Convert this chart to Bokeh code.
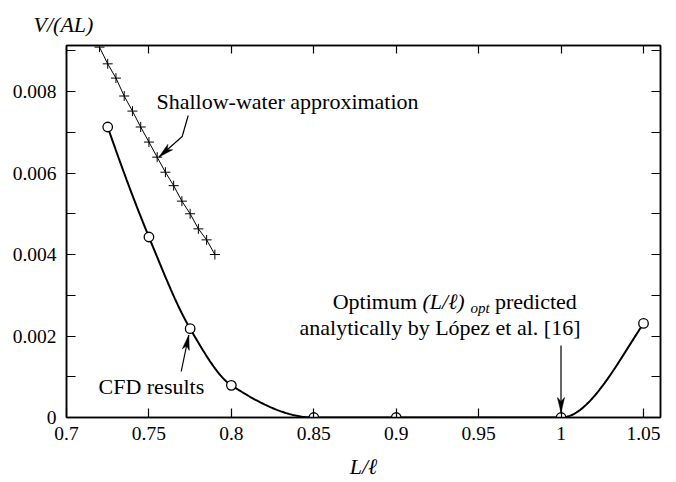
import numpy as np
from bokeh.plotting import figure
from bokeh.models import Range1d, FixedTicker, LinearAxis, Label
from bokeh.embed import file_html
from bokeh.resources import INLINE

# ---------------- data ----------------
cfd_x = [0.725, 0.75, 0.775, 0.8, 0.85, 0.9, 1.0, 1.05]
cfd_y = [0.00713, 0.00443, 0.00218, 0.00079, 0.0, 0.0, 0.0, 0.00231]

sw_x = [0.72, 0.725, 0.73, 0.735, 0.74, 0.745, 0.75, 0.755,
        0.76, 0.765, 0.77, 0.775, 0.78, 0.785, 0.79]
sw_y = [0.00909, 0.00868, 0.00833, 0.00789, 0.00752, 0.00713, 0.00676, 0.00639,
        0.00602, 0.00569, 0.00531, 0.00500, 0.00463, 0.00436, 0.00400]

x_ticks = [0.7, 0.75, 0.8, 0.85, 0.9, 0.95, 1.0, 1.05]
x_tick_labels = ["0.7", "0.75", "0.8", "0.85", "0.9", "0.95", "1", "1.05"]
y_ticks = [0.0, 0.002, 0.004, 0.006, 0.008]
y_tick_labels = ["0", "0.002", "0.004", "0.006", "0.008"]
y_minor_ticks = [0.001, 0.003, 0.005, 0.007, 0.009]

# ---------------- layout ----------------
W, H = 676, 482
FL, FR, FT, FB = 66, 660, 45, 417
X0, X1 = 0.7, 1.0603
Y0, Y1 = 0.0, 0.00913
FONT = "Liberation Serif"


def X(px):
    return X0 + (px - FL) / (FR - FL) * (X1 - X0)


def Y(py):
    return Y0 + (FB - py) / (FB - FT) * (Y1 - Y0)


def pchip(x, y, xs):
    x = np.asarray(x, float)
    y = np.asarray(y, float)
    h = np.diff(x)
    dl = np.diff(y) / h
    n = len(x)
    d = np.zeros(n)
    for k in range(1, n - 1):
        if dl[k - 1] * dl[k] > 0:
            w1 = 2 * h[k] + h[k - 1]
            w2 = h[k] + 2 * h[k - 1]
            d[k] = (w1 + w2) / (w1 / dl[k - 1] + w2 / dl[k])

    def end(h0, h1, d0, d1):
        v = ((2 * h0 + h1) * d0 - h0 * d1) / (h0 + h1)
        if np.sign(v) != np.sign(d0):
            v = 0.0
        elif np.sign(d0) != np.sign(d1) and abs(v) > abs(3 * d0):
            v = 3 * d0
        return v

    d[0] = end(h[0], h[1], dl[0], dl[1])
    d[-1] = end(h[-1], h[-2], dl[-1], dl[-2])
    out = np.empty_like(xs)
    for i, xv in enumerate(xs):
        k = min(max(np.searchsorted(x, xv) - 1, 0), n - 2)
        t = (xv - x[k]) / h[k]
        h00 = 2 * t**3 - 3 * t**2 + 1
        h10 = t**3 - 2 * t**2 + t
        h01 = -2 * t**3 + 3 * t**2
        h11 = t**3 - t**2
        out[i] = h00 * y[k] + h10 * h[k] * d[k] + h01 * y[k + 1] + h11 * h[k] * d[k + 1]
    return out


p = figure(width=W, height=H, x_range=Range1d(X0, X1), y_range=Range1d(Y0, Y1),
           output_backend="svg", toolbar_location=None,
           min_border_left=FL, min_border_right=W - FR,
           min_border_top=FT, min_border_bottom=H - FB)
p.grid.visible = False
p.outline_line_color = "black"
p.outline_line_width = 1.5
p.background_fill_color = "white"
p.border_fill_color = "white"

# y-axis title placed at the top-left, as in the reference
p.title.text = "V/(AL)"
p.title.align = "left"
p.title.offset = -33
p.title.text_font = FONT
p.title.text_font_style = "italic"
p.title.text_font_size = "22px"
p.title.text_color = "black"
p.title.standoff = 18

# bottom axis
xa = p.xaxis[0]
xa.ticker = FixedTicker(ticks=x_ticks)
xa.major_label_overrides = dict(zip(x_ticks, x_tick_labels))
xa.major_tick_in = 9
xa.major_tick_out = 0
xa.minor_tick_in = 0
xa.minor_tick_out = 0
xa.axis_line_width = 1.5
xa.major_tick_line_width = 1.2
xa.major_label_standoff = 9
xa.major_label_text_font = FONT
xa.major_label_text_font_size = "19.5px"
xa.major_label_text_color = "black"
xa.axis_label = "L/\u2113"
xa.axis_label_text_font = FONT
xa.axis_label_text_font_style = "italic"
xa.axis_label_text_font_size = "22px"
xa.axis_label_standoff = 11
xa.axis_label_text_color = "black"

# left axis
ya = p.yaxis[0]
ya.ticker = FixedTicker(ticks=y_ticks, minor_ticks=y_minor_ticks)
ya.major_label_overrides = dict(zip(y_ticks, y_tick_labels))
ya.major_tick_in = 9
ya.major_tick_out = 0
ya.minor_tick_in = 9
ya.minor_tick_out = 0
ya.axis_line_width = 1.5
ya.major_tick_line_width = 1.2
ya.minor_tick_line_width = 1.2
ya.major_label_standoff = 10
ya.major_label_text_font = FONT
ya.major_label_text_font_size = "19.5px"
ya.major_label_text_color = "black"

# mirrored axes (ticks only)
top = LinearAxis(ticker=FixedTicker(ticks=x_ticks),
                 major_label_overrides={t: "" for t in x_ticks},
                 major_label_text_font_size="0px", major_label_standoff=0,
                 major_tick_in=8, major_tick_out=0, minor_tick_in=0, minor_tick_out=0,
                 axis_line_width=1.5, major_tick_line_width=1.2)
p.add_layout(top, "above")
right = LinearAxis(ticker=FixedTicker(ticks=y_ticks + y_minor_ticks),
                   major_label_overrides={t: "" for t in y_ticks + y_minor_ticks},
                   major_label_text_font_size="0px", major_label_standoff=0,
                   major_tick_in=9, major_tick_out=0, minor_tick_in=0, minor_tick_out=0,
                   axis_line_width=1.5, major_tick_line_width=1.2)
p.add_layout(right, "right")

# CFD curve
xs = np.linspace(cfd_x[0], cfd_x[-1], 400)
ys = pchip(cfd_x, cfd_y, xs)
p.line(xs, ys, line_color="black", line_width=2)
p.scatter(cfd_x, cfd_y, marker="circle", size=9.5, fill_color="white",
          line_color="black", line_width=1.3)

# shallow-water approximation
p.line(sw_x, sw_y, line_color="black", line_width=1)
p.scatter(sw_x, sw_y, marker="cross", size=10, line_color="black", line_width=1)


# annotations (pixel positions)
def arrow(pts, L=15, w=3.6, notch=4):
    xs_ = [X(a) for a, b in pts]
    ys_ = [Y(b) for a, b in pts]
    p.line(xs_, ys_, line_color="black", line_width=1.2)
    (ax, ay), (bx, by) = pts[-2], pts[-1]
    ux, uy = bx - ax, by - ay
    n = (ux**2 + uy**2) ** 0.5
    ux, uy = ux / n, uy / n
    nx, ny = -uy, ux
    poly = [(bx, by),
            (bx - L * ux + w * nx, by - L * uy + w * ny),
            (bx - (L - notch) * ux, by - (L - notch) * uy),
            (bx - L * ux - w * nx, by - L * uy - w * ny)]
    p.patch([X(a) for a, b in poly], [Y(b) for a, b in poly],
            fill_color="black", line_color="black", line_width=0.5)


arrow([(187.7, 115), (181.7, 136), (158.5, 156.5)])
arrow([(180.7, 371), (188.3, 334.5)])
arrow([(560.5, 345), (560.5, 412)])


def label(px, py, text, size="22px", style="normal", align="left"):
    p.add_layout(Label(x=X(px), y=Y(py), text=text, text_font=FONT,
                       text_font_size=size, text_font_style=style,
                       text_align=align, text_baseline="middle",
                       text_color="black"))


label(156, 101, "Shallow-water approximation")
label(98, 386, "CFD results")
label(416.5, 301, "Optimum", align="right")
label(422, 301, "(L/\u2113)", style="italic")
label(470, 307, "opt", size="15px", style="italic")
label(494.5, 301, "predicted")
label(580, 327, "analytically by L\u00f3pez et al. [16]", align="right")

open("out.html", "w").write(file_html(p, INLINE))
